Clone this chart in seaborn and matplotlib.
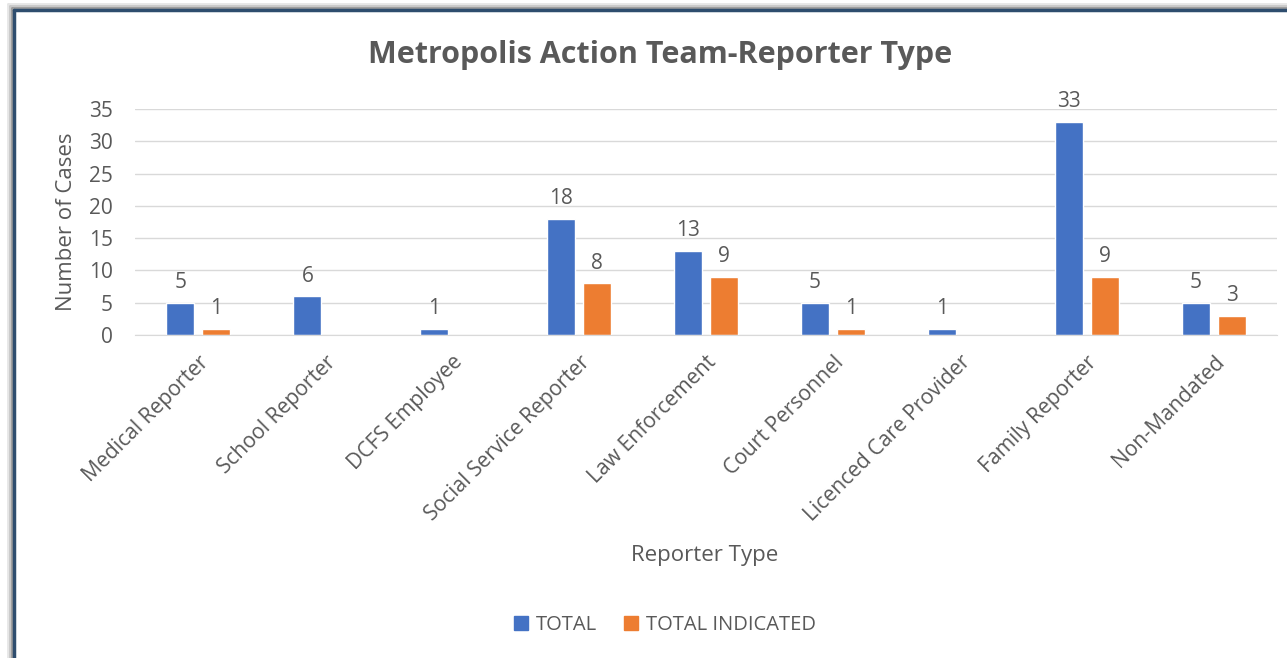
import matplotlib
matplotlib.use('Agg')
import matplotlib.pyplot as plt
from matplotlib.lines import Line2D
from matplotlib.patches import Patch
import seaborn as sns
import pandas as pd

categories = ['Medical Reporter', 'School Reporter', 'DCFS Employee',
              'Social Service Reporter', 'Law Enforcement', 'Court Personnel',
              'Licenced Care Provider', 'Family Reporter', 'Non-Mandated']
total = [5, 6, 1, 18, 13, 5, 1, 33, 5]
total_indicated = [1, None, None, 8, 9, 1, None, 9, 3]
series_names = ['TOTAL', 'TOTAL INDICATED']
y_ticks = [0, 5, 10, 15, 20, 25, 30, 35]

sns.set_style("white")
plt.rcParams['font.family'] = ['Open Sans', 'DejaVu Sans']
text_color = '#595959'

df = pd.DataFrame({
    'category': categories * 2,
    'series': [series_names[0]] * len(categories) + [series_names[1]] * len(categories),
    'value': total + total_indicated,
}).dropna()

fig = plt.figure(figsize=(12.87, 6.58), dpi=100)
ax = fig.add_axes([135 / 1287, 1 - 335 / 658, (1277 - 135) / 1287, (335 - 109) / 658])

sns.barplot(data=df, x='category', y='value', hue='series', order=categories,
            hue_order=series_names, palette=['#4472c4', '#ed7d31'], saturation=1,
            width=0.567, gap=0.22, ax=ax, legend=False)

for cont in ax.containers:
    ax.bar_label(cont, fmt='%d', padding=7, fontsize=15, color=text_color)

ax.set_ylim(0, 35)
ax.set_yticks(y_ticks)
ax.set_xlim(-0.5, len(categories) - 0.5)
ax.yaxis.grid(True, color='#d9d9d9', linewidth=1)
ax.set_axisbelow(True)
for s in ['top', 'right', 'left']:
    ax.spines[s].set_visible(False)
ax.spines['bottom'].set_color('#d9d9d9')
ax.tick_params(axis='both', length=0, labelsize=15, colors=text_color)
ax.tick_params(axis='y', pad=16)
ax.tick_params(axis='x', pad=12)
ax.set_xticks(range(len(categories)))
ax.set_xticklabels(categories, rotation=45, ha='right', rotation_mode='anchor', fontsize=15.2)
ax.set_xlabel('Reporter Type', fontsize=16, color=text_color)
ax.set_ylabel('Number of Cases', fontsize=16, color=text_color)
ax.xaxis.set_label_coords((705 - 135) / 1142, -(545 - 335) / 226)
ax.yaxis.set_label_coords(-(135 - 77) / 1142, 0.5)

fig.text(660 / 1287, 1 - 55 / 658, 'Metropolis Action Team-Reporter Type',
         ha='center', va='center', fontsize=22, fontweight='bold', color=text_color)

handles = [Patch(color='#4472c4', label=series_names[0]),
           Patch(color='#ed7d31', label=series_names[1])]
fig.legend(handles=handles, loc='center', bbox_to_anchor=(665 / 1287, 1 - 625 / 658),
           ncol=2, frameon=False, fontsize=14.5, labelcolor=text_color,
           handlelength=0.7, handleheight=0.7, handletextpad=0.4, columnspacing=1.3)

# frame border with shadow
for off, c in [(6, '#e6e6e6'), (4, '#c8c8c8'), (2, '#9a9a9a')]:
    fig.add_artist(Line2D([(14 - off) / 1287, (14 - off) / 1287], [0, 1 - (10 - off) / 658],
                          transform=fig.transFigure, color=c, linewidth=2))
    fig.add_artist(Line2D([(14 - off) / 1287, 1], [1 - (10 - off) / 658, 1 - (10 - off) / 658],
                          transform=fig.transFigure, color=c, linewidth=2))
fig.add_artist(Line2D([14 / 1287, 14 / 1287], [0, 1 - 10 / 658],
                      transform=fig.transFigure, color='#2e4d6e', linewidth=2.5))
fig.add_artist(Line2D([14 / 1287, 1], [1 - 10 / 658, 1 - 10 / 658],
                      transform=fig.transFigure, color='#2e4d6e', linewidth=2.5))

plt.savefig('out.png', dpi=100)
plt.close()
